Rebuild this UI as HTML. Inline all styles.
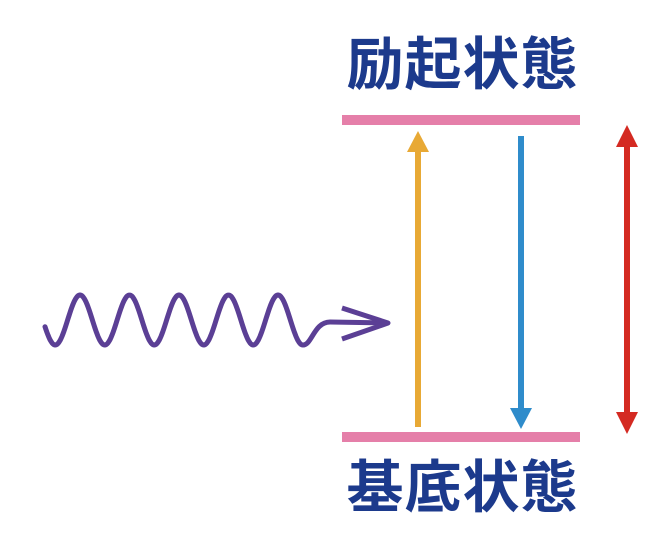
<!DOCTYPE html>
<html><head><meta charset="utf-8"><style>
html,body{margin:0;padding:0;background:#fff;width:646px;height:538px;overflow:hidden}
.t{position:absolute;left:340px;width:245px;text-align:center;font-family:"Liberation Sans","Noto Sans CJK JP",sans-serif;font-weight:bold;font-size:57px;color:#1c3a8c;line-height:1;letter-spacing:1px}
</style></head><body>
<div class="t" style="top:37px">励起状態</div>
<div class="t" style="top:460px">基底状態</div>
<svg width="646" height="538" style="position:absolute;left:0;top:0">
<rect x="342" y="115" width="238" height="10" fill="#e57fa9"/>
<rect x="342" y="432" width="238" height="10" fill="#e57fa9"/>
<line x1="418" y1="427" x2="418" y2="150" stroke="#e8a935" stroke-width="6"/>
<polygon points="407,152 429,152 418,131" fill="#e8a935"/>
<line x1="521" y1="136" x2="521" y2="410" stroke="#2f8ccb" stroke-width="6"/>
<polygon points="510,408 532,408 521,429" fill="#2f8ccb"/>
<line x1="627" y1="145" x2="627" y2="415" stroke="#d42a22" stroke-width="6"/>
<polygon points="616,147 638,147 627,125" fill="#d42a22"/>
<polygon points="616,412 638,412 627,434" fill="#d42a22"/>
<path id="w" fill="none" stroke="#5b3f95" stroke-width="5" stroke-linecap="round" stroke-linejoin="round" d=""/>
<polyline points="342,308 388,323 342,339" fill="none" stroke="#5b3f95" stroke-width="5" stroke-linejoin="round"/>
</svg>
<script>
var d="";for(var x=45;x<=303;x+=1){var y=320-25*Math.cos(2*Math.PI*(x-80)/49.5);d+=(x==45?"M":"L")+x+","+y.toFixed(1)+" ";}
d+="C312,345 314,322 330,322 L386,323";
document.getElementById("w").setAttribute("d",d);
</script>
</body></html>
